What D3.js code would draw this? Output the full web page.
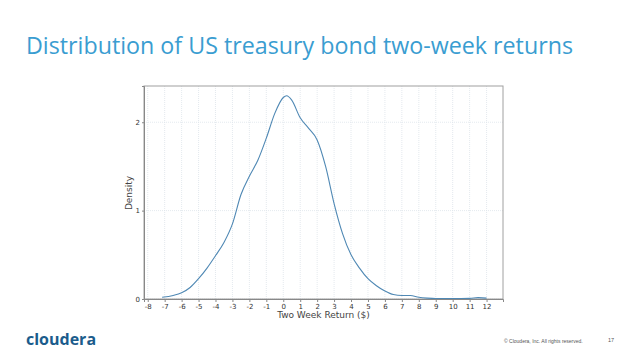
<!DOCTYPE html>
<html>
<head>
<meta charset="utf-8">
<script src="https://cdn.jsdelivr.net/npm/d3@7"></script>
<style>
  html, body { margin: 0; padding: 0; background: #fff; }
  svg { display: block; }
</style>
</head>
<body>
<script>
// density estimate of two-week returns
var returns = [-7.15, -6.5, -6, -5.5, -5, -4.5, -4, -3.5, -3, -2.5, -2, -1.5, -1, -0.5, 0, 0.2, 0.5, 1, 1.5, 2, 2.5, 3, 3.5, 4, 4.5, 5, 5.5, 6, 6.5, 7, 7.5, 8, 8.5, 9, 10, 11, 11.5, 12]
var density = [0.02, 0.04, 0.07, 0.13, 0.23, 0.35, 0.49, 0.64, 0.85, 1.18, 1.39, 1.57, 1.82, 2.10, 2.28, 2.30, 2.25, 2.05, 1.93, 1.80, 1.50, 1.08, 0.74, 0.50, 0.35, 0.23, 0.15, 0.09, 0.05, 0.04, 0.04, 0.02, 0.01, 0.005, 0.005, 0.007, 0.015, 0.01]
var xTicks = d3.range(-8, 13)
var yTicks = [0, 1, 2]

var width = 638, height = 359
var plot = {left: 144, right: 503, top: 86, bottom: 299}

var svg = d3.select('body').append('svg')
	.attr('width', width)
	.attr('height', height)

var x = d3.scaleLinear().domain([-8.22, 12.97]).range([plot.left, plot.right])
var y = d3.scaleLinear().domain([0, 2.41]).range([plot.bottom, plot.top])

// title
svg.append('text')
	.attr('x', 26)
	.attr('y', 54)
	.attr('textLength', 547)
	.attr('lengthAdjust', 'spacingAndGlyphs')
	.style('font-family', '"Open Sans", sans-serif')
	.style('font-size', '23px')
	.style('fill', '#3a9dd1')
	.text('Distribution of US treasury bond two-week returns')

// grid
var grid = svg.append('g')
grid.selectAll('.vgrid').data(xTicks).enter().append('line')
	.attr('class', 'vgrid')
	.attr('x1', d => x(d)).attr('x2', d => x(d))
	.attr('y1', plot.top).attr('y2', plot.bottom)
	.attr('stroke', '#dde3ea')
	.attr('stroke-width', 0.8)
	.attr('stroke-dasharray', '1,1')
grid.selectAll('.hgrid').data(yTicks).enter().append('line')
	.attr('class', 'hgrid')
	.attr('x1', plot.left).attr('x2', plot.right)
	.attr('y1', d => y(d)).attr('y2', d => y(d))
	.attr('stroke', '#dde3ea')
	.attr('stroke-width', 0.8)
	.attr('stroke-dasharray', '1,1')

// frame
svg.append('rect')
	.attr('x', plot.left).attr('y', plot.top)
	.attr('width', plot.right - plot.left)
	.attr('height', plot.bottom - plot.top)
	.attr('fill', 'none')
	.attr('stroke', '#a0a0a0')
	.attr('stroke-width', 1)

// axes (plain hyphen minus like the original)
var fmt = d => String(d)

var xAxis = svg.append('g')
	.attr('transform', 'translate(0,' + plot.bottom + ')')
	.call(d3.axisBottom(x).tickValues(xTicks).tickFormat(fmt).tickSize(3).tickPadding(2))
xAxis.select('.domain').attr('stroke', '#888')
xAxis.selectAll('line').attr('stroke', '#888')
xAxis.selectAll('text')
	.style('font-family', '"DejaVu Sans", sans-serif')
	.style('font-size', '7px')
	.style('fill', '#333')

var yAxis = svg.append('g')
	.attr('transform', 'translate(' + plot.left + ',0)')
	.call(d3.axisLeft(y).tickValues(yTicks).tickFormat(fmt).tickSize(2).tickPadding(2))
yAxis.select('.domain').attr('stroke', '#888')
yAxis.selectAll('line').attr('stroke', '#888')
yAxis.selectAll('text')
	.style('font-family', '"DejaVu Sans", sans-serif')
	.style('font-size', '7px')
	.style('fill', '#333')

// axis labels
svg.append('text')
	.attr('x', (plot.left + plot.right) / 2)
	.attr('y', 318)
	.style('text-anchor', 'middle')
	.style('font-family', '"DejaVu Sans", sans-serif')
	.style('font-size', '9px')
	.style('fill', '#444')
	.text('Two Week Return ($)')

svg.append('text')
	.attr('transform', 'translate(132,193) rotate(-90)')
	.style('text-anchor', 'middle')
	.style('font-family', '"DejaVu Sans", sans-serif')
	.style('font-size', '9px')
	.style('fill', '#444')
	.text('Density')

// density curve
var line = d3.line()
	.x((d, i) => x(returns[i]))
	.y(d => y(d))
	.curve(d3.curveMonotoneX)

svg.append('path')
	.datum(density)
	.attr('d', line)
	.attr('fill', 'none')
	.attr('stroke', '#4f88b4')
	.attr('stroke-width', 1.1)

// footer
svg.append('text')
	.attr('x', 26)
	.attr('y', 345)
	.style('font-family', '"Open Sans", sans-serif')
	.style('font-weight', '700')
	.style('font-size', '16px')
	.style('fill', '#1b5c8c')
	.text('cloudera')

svg.append('text')
	.attr('x', 504)
	.attr('y', 343)
	.style('font-family', '"Liberation Sans", sans-serif')
	.style('font-size', '5px')
	.style('fill', '#555')
	.text('© Cloudera, Inc. All rights reserved.')

svg.append('text')
	.attr('x', 608)
	.attr('y', 342)
	.style('font-family', '"Liberation Sans", sans-serif')
	.style('font-size', '5.5px')
	.style('fill', '#555')
	.text('17')
</script>
</body>
</html>
